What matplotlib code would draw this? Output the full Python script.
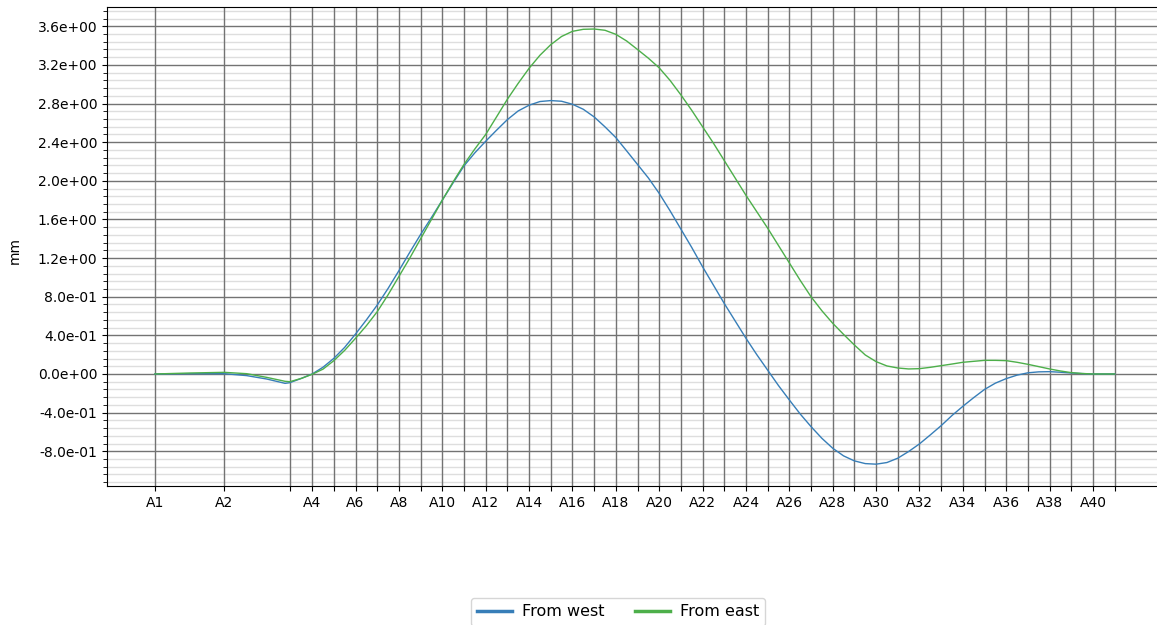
import numpy as np
import matplotlib
matplotlib.use('Agg')
import matplotlib.pyplot as plt
from matplotlib.ticker import MultipleLocator, FormatStrFormatter

# station chainage along the track (A1..A41)
stations = ['A%d' % i for i in range(1, 42)]
station_ch = [0.0, 3.2, 6.22] + [n + 3.25 for n in range(4, 42)]

# tick labels : A3 and odd stations after A4 left blank
tick_labels = ['A1', 'A2', ''] + [s if int(s[1:]) % 2 == 0 else '' for s in stations[3:]]

# readings between A1 and A4 (chainage given directly)
ch_start = [0.0, 1.6, 3.2, 4.23, 5.15, 6.0, 6.22, 6.76]
west_start = [0.0, 0.003, 0.003, -0.017, -0.052, -0.097, -0.09, -0.045]
east_start = [0.0, 0.01, 0.017, 0.003, -0.035, -0.076, -0.08, -0.045]

# readings every half station from A4 to A41
half_st = np.arange(4, 41.01, 0.5)
west_half = [0.0, 0.07, 0.162, 0.276, 0.414, 0.56, 0.714, 0.886, 1.07, 1.26,
             1.445, 1.62, 1.80, 1.98, 2.155, 2.29, 2.41, 2.524, 2.634, 2.724,
             2.783, 2.821, 2.831, 2.824, 2.793, 2.741, 2.662, 2.559, 2.448, 2.31,
             2.17, 2.03, 1.87, 1.69, 1.50, 1.31, 1.11, 0.92, 0.73, 0.55,
             0.37, 0.20, 0.04, -0.12, -0.269, -0.414, -0.545, -0.666, -0.769, -0.848,
             -0.90, -0.928, -0.934, -0.917, -0.872, -0.803, -0.724, -0.631, -0.535, -0.43,
             -0.335, -0.245, -0.16, -0.095, -0.048, -0.012, 0.012, 0.022, 0.024, 0.018,
             0.01, 0.004, 0.0, 0.0, 0.0]
east_half = [-0.003, 0.05, 0.138, 0.245, 0.37, 0.50, 0.645, 0.82, 1.01, 1.20,
             1.40, 1.60, 1.80, 1.99, 2.17, 2.33, 2.48, 2.662, 2.845, 3.01,
             3.165, 3.30, 3.41, 3.495, 3.548, 3.569, 3.572, 3.559, 3.517, 3.448,
             3.36, 3.27, 3.17, 3.04, 2.89, 2.73, 2.56, 2.39, 2.21, 2.03,
             1.85, 1.68, 1.51, 1.33, 1.15, 0.97, 0.80, 0.655, 0.525, 0.41,
             0.30, 0.197, 0.128, 0.083, 0.062, 0.052, 0.055, 0.069, 0.086, 0.103,
             0.121, 0.131, 0.141, 0.141, 0.138, 0.121, 0.10, 0.076, 0.052, 0.031,
             0.014, 0.005, 0.0, 0.0, 0.0]

x = ch_start + list(half_st + 3.25)
from_west = west_start + west_half
from_east = east_start + east_half

fig = plt.figure(figsize=(11.57, 6.25), dpi=100)
ax = fig.add_axes([107/1157, 1-486/625, 1089/1157, 479/625])

ax.plot(x, from_west, color='#377eb8', lw=1.0, label='From west')
ax.plot(x, from_east, color='#4daf4a', lw=1.0, label='From east')

ax.set_xlim(-2.21, 48.0)
ax.set_ylim(-1.16, 3.80)

ax.set_xticks(station_ch)
ax.set_xticklabels(tick_labels, fontsize=10)
ax.yaxis.set_major_locator(MultipleLocator(0.4))
ax.yaxis.set_minor_locator(MultipleLocator(0.08))
ax.yaxis.set_major_formatter(FormatStrFormatter('%.1e'))
ax.tick_params(axis='y', labelsize=10)
ax.tick_params(axis='y', which='minor', length=3)

ax.grid(True, which='major', color='0.45', lw=1.0)
ax.grid(True, which='minor', axis='y', color='0.87', lw=1.0)
ax.set_axisbelow(True)
ax.xaxis.set_zorder(0.8)   # vertical grid on top of the light minor lines
ax.spines['right'].set_visible(False)

fig.text(15/1157, 1-250/625, 'mm', rotation=90, ha='center', va='center', fontsize=10)

leg = fig.legend(loc='upper center', bbox_to_anchor=(618/1157, 1-590/625), ncol=2,
                 fontsize=11.5, handlelength=2.2, handletextpad=0.6, columnspacing=1.9)
for h in leg.get_lines():
    h.set_linewidth(2.5)

fig.savefig('out.png', dpi=100)
